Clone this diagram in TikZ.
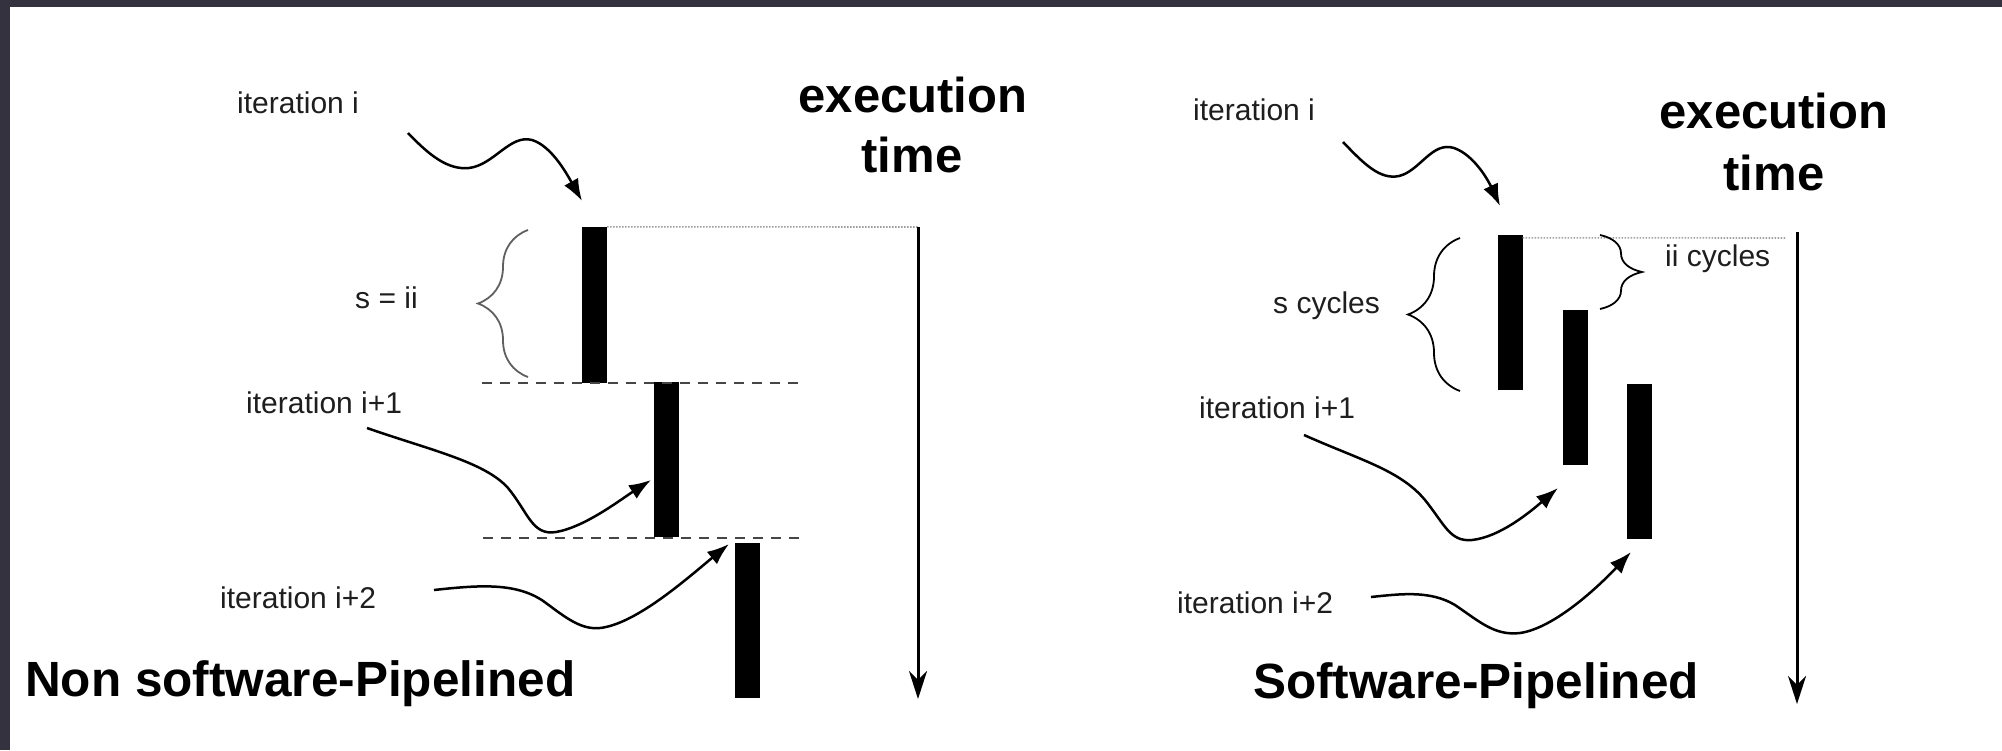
\documentclass[tikz,border=0pt]{standalone}
\usepackage{fontspec}
\setmainfont{Liberation Sans}
\usetikzlibrary{arrows.meta,decorations.pathreplacing}
\definecolor{framecol}{RGB}{53,50,64}
\definecolor{txt}{RGB}{30,30,30}
\begin{document}
\begin{tikzpicture}[x=1pt,y=-1pt,
  lbl/.style={inner sep=0pt, anchor=base west, text=txt, font=\fontsize{30}{36}\selectfont},
  ttl/.style={inner sep=0pt, anchor=base west, text=black, font=\fontsize{49.5}{60}\selectfont\bfseries},
  hd/.style={inner sep=0pt, anchor=base, text=black, font=\fontsize{49}{60}\selectfont\bfseries},
  bar/.style={rectangle, fill=black, draw=none, inner sep=0pt, minimum width=25pt},
  wavy/.style={line width=2.5pt, -{Latex[length=22pt,width=16pt]}},
  timearrow/.style={line width=3pt, -{Stealth[length=28pt,width=18pt,inset=9pt]}},
  guide/.style={gray!75, line width=1.6pt, dash pattern=on 1.5pt off 1.5pt},
  sepline/.style={gray!55!black, line width=2.5pt, dash pattern=on 10pt off 8pt},
  curly/.style={decorate, decoration={brace, amplitude=#1}, line width=1.8pt}
]
\useasboundingbox (0,0) rectangle (2002,750);
\fill[white] (0,0) rectangle (2002,750);
\fill[framecol] (0,0) rectangle (2002,7);
\fill[framecol] (0,0) rectangle (10,750);

% ---------------- left panel ----------------
\node[lbl] (Lit) at (237,113) {iteration i};
\node[lbl] (Ls) at (355,308) {s = ii};
\node[lbl] (Lit1) at (246,413) {iteration i+1};
\node[lbl] (Lit2) at (220,608) {iteration i+2};
\node[ttl] (Ltitle) at (25,696) {Non software-Pipelined};
\node[hd] (Lexec) at (913,112) {execution};
\node[hd] (Ltime) at (912,172) {time};

\node[bar, minimum height=156pt] (L1) at (594.5,305) {};
\node[bar, minimum height=155pt] (L2) at (666,459.5) {};
\node[bar, minimum height=155pt] (L3) at (747,620.5) {};

\coordinate (Lt0) at (918,227);
\coordinate (Lt1) at (918,699);
\draw[guide] (L1.north east) -- (Lt0);
\draw[timearrow] (Lt0) -- (Lt1);

\coordinate (Ld1a) at (482,383);
\coordinate (Ld1b) at (798,383);
\coordinate (Ld2a) at (483,538);
\coordinate (Ld2b) at (802,538);
\draw[sepline] (Ld1a) -- (Ld1b);
\draw[sepline] (Ld2a) -- (Ld2b);

\draw[curly=50pt, gray!75!black] (528,377) -- (528,230);

\coordinate (La0) at (408,133);
\coordinate (La1) at (582,201);
\draw[wavy] (La0) .. controls (430,156) and (448,170) .. (469,168)
  .. controls (494,165) and (510,134) .. (532,140)
  .. controls (552,146) and (568,176) .. (La1);
\coordinate (Lb0) at (367,428);
\coordinate (Lb1) at (651,480);
\draw[wavy] (Lb0) .. controls (430,450) and (485,462) .. (508,488)
  .. controls (528,512) and (532,536) .. (556,532)
  .. controls (585,527) and (620,500) .. (Lb1);
\coordinate (Lc0) at (434,590);
\coordinate (Lc1) at (729,544);
\draw[wavy] (Lc0) .. controls (480,585) and (518,582) .. (546,603)
  .. controls (570,621) and (585,632) .. (606,627)
  .. controls (642,619) and (690,576) .. (Lc1);

% ---------------- right panel ----------------
\node[lbl] (Rit) at (1193,120) {iteration i};
\node[lbl] (Rs) at (1273,313) {s cycles};
\node[lbl] (Rii) at (1665,266) {ii cycles};
\node[lbl] (Rit1) at (1199,418) {iteration i+1};
\node[lbl] (Rit2) at (1177,613) {iteration i+2};
\node[ttl] (Rtitle) at (1253,698) {Software-Pipelined};
\node[hd] (Rexec) at (1774,128) {execution};
\node[hd] (Rtime) at (1774,190) {time};

\node[bar, minimum height=155pt] (R1) at (1510,312.5) {};
\node[bar, minimum height=155pt] (R2) at (1575,387.5) {};
\node[bar, minimum height=155pt] (R3) at (1639.5,461.5) {};

\coordinate (Rt0) at (1797,232);
\coordinate (Rt1) at (1797,704);
\coordinate (Rg1) at (1786,238);
\draw[guide] ([yshift=-3pt]R1.north east) -- (Rg1);
\draw[timearrow] (Rt0) -- (Rt1);

\draw[curly=52pt, black] (1460,391) -- (1460,238);
\draw[curly=42pt, black] (1600,235) -- (1600,309);

\coordinate (Ra0) at (1343,142);
\coordinate (Ra1) at (1500,206);
\draw[wavy] (Ra0) .. controls (1364,164) and (1380,180) .. (1399,176)
  .. controls (1420,171) and (1432,141) .. (1454,148)
  .. controls (1474,155) and (1488,180) .. (Ra1);
\coordinate (Rb0) at (1304,435);
\coordinate (Rb1) at (1558,488);
\draw[wavy] (Rb0) .. controls (1360,460) and (1400,470) .. (1425,500)
  .. controls (1445,525) and (1450,542) .. (1472,540)
  .. controls (1500,537) and (1530,512) .. (Rb1);
\coordinate (Rc0) at (1371,597);
\coordinate (Rc1) at (1631,552);
\draw[wavy] (Rc0) .. controls (1400,594) and (1430,590) .. (1455,605)
  .. controls (1480,622) and (1495,636) .. (1520,633)
  .. controls (1555,628) and (1600,585) .. (Rc1);
\end{tikzpicture}
\end{document}
